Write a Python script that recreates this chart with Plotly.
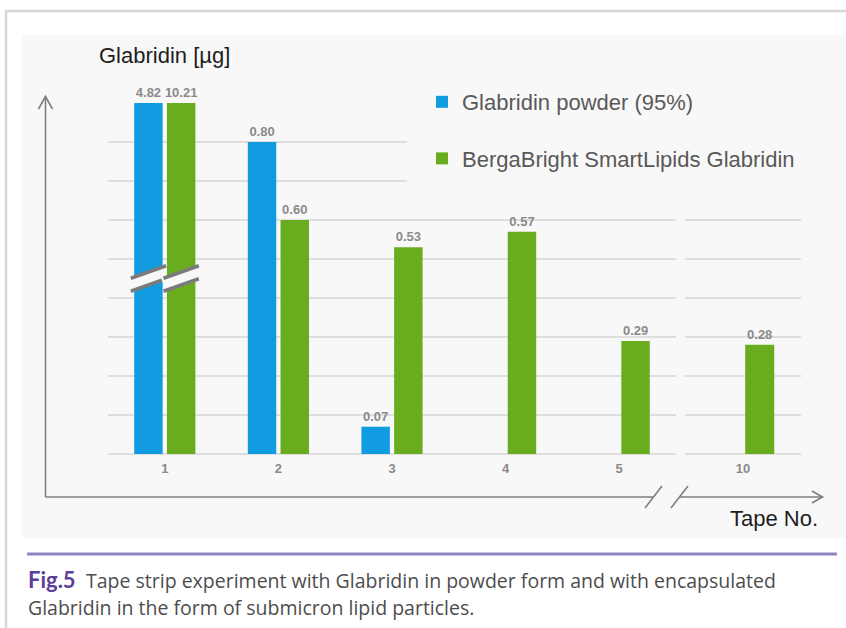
import plotly.graph_objects as go

# ---------------- data ----------------
tapes_main = ["1", "2", "3", "4", "5"]
tapes_late = ["10"]
powder_main = [4.82, 0.80, 0.07, None, None]
powder_late = [None]
lipids_main = [10.21, 0.60, 0.53, 0.57, 0.29]
lipids_late = [0.28]
series_names = ["Glabridin powder (95%)", "BergaBright SmartLipids Glabridin"]
y_title = "Glabridin [µg]"
x_title = "Tape No."
fig_label = "Fig.5"
caption_1 = "Tape strip experiment with Glabridin in powder form and with encapsulated"
caption_2 = "Glabridin in the form of submicron lipid particles."

# ---------------- style ----------------
W, H = 846, 628
Y_CAP = 0.9          # axis top; taller bars are drawn broken at this height
BLUE = "#119be0"
GREEN = "#69ad1f"
PANEL = "#f8f8f8"
GRID = "#dedede"
AXIS = "#7f7f7f"
LABEL = "#8a8a8a"
BARGAP = 0.424
BARGROUPGAP = 0.13


def fx(px):
    return px / W


def fy(py):
    return 1 - py / H


def bar_heights(vals):
    return [None if v is None else min(v, Y_CAP) for v in vals]


def bar_texts(vals):
    return ["" if v is None else f"{v:.2f}" for v in vals]


fig = go.Figure()
colors = [BLUE, GREEN]
for i, (name, main, late) in enumerate(zip(series_names, [powder_main, lipids_main], [powder_late, lipids_late])):
    common = dict(
        marker_color=colors[i], marker_line_width=0, textposition="outside",
        texttemplate="%{text}", cliponaxis=False, constraintext="none", textangle=0,
        textfont=dict(family="Liberation Sans", size=13, color=LABEL, weight="bold"),
        legendgroup=f"g{i}", hoverinfo="skip",
    )
    fig.add_trace(go.Bar(x=tapes_main, y=bar_heights(main), text=bar_texts(main), name=name,
                         showlegend=True, xaxis="x", yaxis="y", **common))
    fig.add_trace(go.Bar(x=tapes_late, y=bar_heights(late), text=bar_texts(late), name=name,
                         showlegend=False, xaxis="x2", yaxis="y", **common))

xcommon = dict(type="category", showgrid=False, zeroline=False, showline=False, ticks="",
               tickfont=dict(family="Liberation Sans", size=13, color=LABEL, weight="bold"),
               ticklabelstandoff=5, fixedrange=True)
fig.update_layout(
    width=W, height=H, margin=dict(l=0, r=0, t=0, b=0),
    paper_bgcolor="white", plot_bgcolor=PANEL,
    barmode="group", bargap=BARGAP, bargroupgap=BARGROUPGAP,
    xaxis=dict(domain=[fx(108), fx(676)], anchor="y", **xcommon),
    xaxis2=dict(domain=[fx(685), fx(801)], anchor="y", **xcommon),
    yaxis=dict(domain=[fy(454), fy(103)], range=[0, Y_CAP + 1e-6], dtick=0.1, tick0=0,
               showgrid=True, gridcolor=GRID, gridwidth=1.6, zeroline=True,
               zerolinecolor=GRID, zerolinewidth=1.6, showticklabels=False,
               showline=False, ticks="", fixedrange=True),
    # legend box (panel coloured) also hides the upper gridlines, as in the original
    legend=dict(x=fx(407), xanchor="left", y=fy(66), yanchor="top",
                bgcolor=PANEL, bordercolor=PANEL, borderwidth=15,
                traceorder="grouped", tracegroupgap=25,
                font=dict(family="Liberation Sans", size=22, color="#595959")),
    showlegend=True,
)

shapes = []
# outer frame and inner panel
shapes.append(dict(type="rect", xref="paper", yref="paper", x0=fx(6), x1=fx(860), y0=fy(11), y1=fy(650),
                   line=dict(color="#d6d6d6", width=2.5), fillcolor="white", layer="below"))
shapes.append(dict(type="rect", xref="paper", yref="paper", x0=fx(22), x1=fx(860), y0=fy(35), y1=fy(538),
                   line=dict(width=0), fillcolor=PANEL, layer="below"))


def pline(x0, y0, x1, y1, w=1.6, color=AXIS):
    return dict(type="line", xref="paper", yref="paper", x0=fx(x0), y0=fy(y0), x1=fx(x1), y1=fy(y1),
                line=dict(color=color, width=w), layer="above")


def ppath(pts, w=1.6, color=AXIS):
    d = "M " + " L ".join(f"{fx(a):.5f},{fy(b):.5f}" for a, b in pts)
    return dict(type="path", xref="paper", yref="paper", path=d,
                line=dict(color=color, width=w), layer="above")


# hand-drawn style axes with arrows and break marks
shapes.append(pline(45.5, 497, 45.5, 97))
shapes.append(ppath([(38.5, 109), (45.5, 96.5), (52.5, 109)]))
shapes.append(pline(45.5, 497, 653, 497))
shapes.append(pline(679, 497, 822, 497))
shapes.append(ppath([(812, 491), (822.5, 497), (812, 503)]))
shapes.append(pline(645, 508, 662, 486))
shapes.append(pline(671, 508, 688, 486))

# break marks across the bars of tape 1
slot = (1 - BARGAP) / 2
bw = slot * (1 - BARGROUPGAP)
ext = 0.03
rise = 0.016
for centre in (-slot / 2, slot / 2):
    xa, xb = centre - bw / 2 - ext, centre + bw / 2 + ext
    shapes.append(dict(type="line", xref="x", yref="y", x0=xa, x1=xb, y0=0.45 - rise, y1=0.45 + rise,
                       line=dict(color=PANEL, width=15), layer="above"))
    for yc in (0.4667, 0.4333):
        shapes.append(dict(type="line", xref="x", yref="y", x0=xa, x1=xb, y0=yc - rise, y1=yc + rise,
                           line=dict(color="#7a7a7a", width=3.5), layer="above"))

# caption separator
shapes.append(pline(27, 554, 837, 554, w=3, color="#9283c4"))
fig.update_layout(shapes=shapes)

ann = [
    dict(text=y_title, x=fx(164), y=fy(56), xanchor="center", yanchor="middle",
         font=dict(family="Liberation Sans", size=22, color="#1e1e1e")),
    dict(text=x_title, x=fx(774), y=fy(518), xanchor="center", yanchor="middle",
         font=dict(family="Liberation Sans", size=22, color="#1e1e1e")),
    dict(text=f"<b>{fig_label}</b>", x=fx(26), y=fy(579), xanchor="left", yanchor="middle",
         font=dict(family="Lato", size=22, color="#5b3f98")),
    dict(text=caption_1, x=fx(84), y=fy(580), xanchor="left", yanchor="middle",
         font=dict(family="Open Sans", size=19.5, color="#4d4d4d")),
    dict(text=caption_2, x=fx(26), y=fy(607), xanchor="left", yanchor="middle",
         font=dict(family="Open Sans", size=19.5, color="#4d4d4d")),
]
for a in ann:
    a.update(xref="paper", yref="paper", showarrow=False)
fig.update_layout(annotations=ann)

fig.write_html("out.html")
